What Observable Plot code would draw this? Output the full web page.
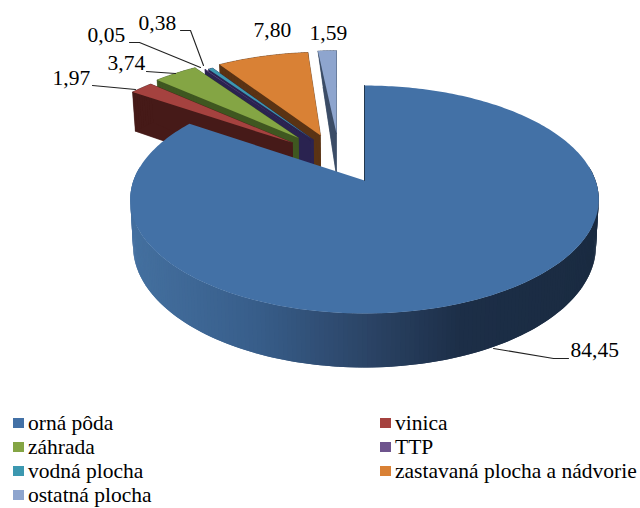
<!DOCTYPE html>
<html><head><meta charset="utf-8">
<script src="https://cdn.jsdelivr.net/npm/d3@7"></script>
<script src="https://cdn.jsdelivr.net/npm/@observablehq/plot@0.6"></script>
<style>
html,body{margin:0;padding:0;background:#fff;overflow:hidden}
#legend{position:relative;height:108px;font-family:"Liberation Serif",serif;font-size:21.5px;color:#000}
.it{position:absolute;display:flex;align-items:center;white-space:nowrap;height:24px;line-height:24px}
.sw{width:11px;height:10px;margin-right:4px;flex:none}
</style></head><body>
<div id="chart"></div><div id="legend"></div>
<script>
const categories = ["orná pôda","vinica","záhrada","TTP","vodná plocha","zastavaná plocha a nádvorie","ostatná plocha"];
const values = [84.45,1.97,3.74,0.05,0.38,7.80,1.59];
const topColors = ["#4371a6","#a5423f","#84a544","#6e548d","#3c98b0","#d98135","#8ea5ce"];
const wallColors = ["#2b4466","#461a18","#3f5720","#2a2350","#2a2350","#5a3314","#3b4c66"];
// exploded offset of each slice, in radii of the pie plane
const explodeU = [0,-0.33,-0.305,-0.25,-0.235,-0.204,0];
const explodeV = [0,0.36,0.41,0.385,0.39,0.436,0.456];
const screenShift = [0,0,0,0,0,0,-28];
const drawOrder = [6,5,4,3,2,1,0];
const pinch = [0.012,0.012,0.012,0.012,0.012,0.012,0.28];
// label layout
const labelX = [570,52,107,87,138,253,309];
const labelY = [350,78,63,35,23,30,33];
const leaders = [
  [[493,348],[553,358],[568,358]],
  [[92,85],[135,89]],
  [[146,71],[175,73]],
  [[129,42],[139,42],[200,67]],
  [[180,30],[190,30],[203,65]]
];
const legendRows = [[0,0],[0,1],[1,0],[1,1],[2,0],[2,1],[3,0]];

const cx=364, cy=180, a=110.8, b=231, k=1/6, depth=45, H=400;
const total=d3.sum(values);
const rad=d=>d*Math.PI/180;
let acc=0;
const slices=values.map((v,i)=>{const s=acc/total*360;acc+=v;return{i,s,e:acc/total*360};});
const marks=[];
const poly=(pts,fill,sw=0)=>marks.push(Plot.line(pts,{x:d=>d[0],y:d=>d[1],fill,stroke:sw?fill:null,strokeWidth:sw}));
const blueGrad=d3.scaleLinear().domain([131,250,364,460,598]).range(["#44709f","#385e8b","#2b4466","#1c2e47","#1a2b41"]).clamp(true);

for(const i of drawOrder){
  const sl=slices[i], du=explodeU[i], dv=explodeV[i];
  const P=(u,v)=>{const w=1+k*v;return [cx+screenShift[i]+b*u/w, cy-a*v/w, w];};
  const bottom=(p,ref)=>[p[0]+(ref-p[0])*pinch[i], p[1]+depth/p[2]];
  const arc=[];
  const steps=Math.max(2,Math.ceil((sl.e-sl.s)));
  for(let j=0;j<=steps;j++){
    const t=rad(sl.s+(sl.e-sl.s)*j/steps);
    arc.push(P(du+Math.sin(t),dv+Math.cos(t)));
  }
  const apex=P(du,dv);
  const ref=i===6?apex[0]:cx;
  if(i===0){
    for(let j=0;j<arc.length-1;j++){
      const A=arc[j],B=arc[Math.min(j+2,arc.length-1)];
      if(A[1]<cy-10&&B[1]<cy-10) continue;
      poly([A,B,bottom(B,ref),bottom(A,ref)],blueGrad((A[0]+B[0])/2));
    }
  } else {
    const apexB=bottom(apex,ref);
    const bot=arc.map(p=>bottom(p,ref));
    const wc=wallColors[i];
    poly([apexB,...bot],wc,0.5);
    poly([apex,arc[0],bot[0],apexB],wc,0.5);
    poly([apex,arc[arc.length-1],bot[bot.length-1],apexB],wc,0.5);
    for(let j=0;j<arc.length-1;j++) poly([arc[j],arc[j+1],bot[j+1],bot[j]],wc,0.5);
  }
  poly([apex,...arc],topColors[i]);
  if(i===0) marks.push(Plot.line([apex,arc[0]],{x:d=>d[0],y:d=>d[1],stroke:"#22384f",strokeWidth:1}));
}
for(const l of leaders) marks.push(Plot.line(l,{x:d=>d[0],y:d=>d[1],stroke:"#222",strokeWidth:1.1}));
marks.push(Plot.text(values,{
  x:(d,i)=>labelX[i],y:(d,i)=>labelY[i],
  text:d=>d.toFixed(2).replace(".",","),
  textAnchor:"start",fontFamily:"Liberation Serif",fontSize:21.5,fill:"#000"
}));
const chart=Plot.plot({width:640,height:H,margin:0,
  x:{domain:[0,640],range:[0,640],axis:null},
  y:{domain:[0,H],range:[0,H],axis:null},
  style:{background:"#fff"},marks});
document.getElementById("chart").appendChild(chart);
chart.style.display="block";

const lg=document.getElementById("legend");
categories.forEach((c,i)=>{
  const [r,col]=legendRows[i];
  const el=document.createElement("div");el.className="it";
  el.style.left=(col?380:13)+"px";el.style.top=(10.5+r*24.3)+"px";
  const sw=document.createElement("span");sw.className="sw";sw.style.background=topColors[i];
  const tx=document.createElement("span");tx.textContent=c;
  el.append(sw,tx);lg.append(el);
});
</script></body></html>
